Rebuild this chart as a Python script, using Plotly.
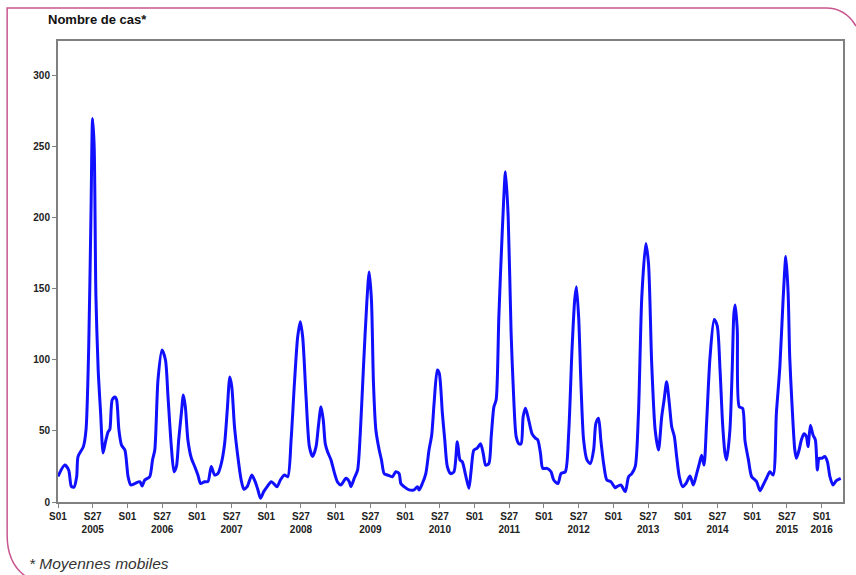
import plotly.graph_objects as go

# Week index since 2005 S01 (52 weeks per year) and moving-average case counts
weeks = [0, 5, 8, 10, 12, 14, 15, 19, 21, 23, 24.7, 25.9, 27.1, 28.4, 30.1, 31.9, 33.8, 35.6, 37.6, 38.8,
         40.6, 42.6, 43.9, 45.6, 47.6, 50.1, 52.5, 54.5, 57.5, 61.3, 63, 65, 68.7, 70.8, 72.5, 74.9, 77.9,
         80.5, 82.4, 84.9, 86.9, 88.7, 90.4, 92.4, 93.9, 95.4, 97.3, 99.9, 102.4, 104.8, 106.8, 109.8,
         112.3, 114.8, 117.3, 119.8, 122.3, 124.8, 126.8, 128.7, 130.2, 132.2, 134.7, 137.2, 139.2,
         141.7, 145.2, 147.7, 149.6, 151.7, 154.1, 156.7, 159.7, 161.6, 164.1, 166.6, 169.6, 172.1,
         174.6, 177.1, 179.5, 181.5, 183.3, 185.8, 188.3, 190.7, 193.3, 195, 197, 198.7, 200.2, 201.9,
         204.5, 206.9, 209.4, 212, 215.7, 218.2, 219.4, 221.9, 224.4, 226.4, 228.8, 231.4, 233.1, 234.8,
         236.3, 238.1, 240.6, 242.3, 244.3, 246.8, 250.5, 253, 255.5, 256.8, 259.2, 263, 266.7, 269.2,
         270.5, 272.9, 275.5, 277.9, 279.9, 281.7, 284.1, 285.6, 287.9, 289.7, 291.6, 294.1, 296.6,
         299.1, 301.1, 302.8, 305.3, 307.8, 309.5, 311.5, 314, 316.5, 318.5, 320.3, 322.7, 324.5, 326.5,
         328.2, 330.2, 332.7, 335.2, 337.2, 339.4, 341.4, 343.2, 345.2, 346.9, 348.4, 350.2, 352.6,
         355.1, 357.6, 359.4, 361.4, 363.1, 366.3, 369.3, 371.3, 374.5, 376.8, 380, 382.5, 385, 387,
         388.3, 390, 391.7, 393.7, 396.2, 398.7, 401.2, 402.9, 404.9, 406.6, 408.7, 411.1, 414.1, 417.4,
         418.6, 421.6, 424.9, 427.4, 429.8, 432.4, 434.8, 437.3, 440.3, 442.3, 444.7, 447.3, 449.8,
         452.2, 454, 455.9, 457.9, 459.7, 461.7, 463.4, 465.4, 467.9, 470.4, 473.4, 475.9, 478.4, 480.4,
         482.1, 483.9, 485.8, 488.4, 491.5, 493.8, 495.9, 497.8, 499.6, 500.8, 503.3, 505, 506.3, 507.3,
         508.8, 510.3, 512.8, 514.6, 517.1, 519.5, 522.1, 523.3, 525.8, 528.2, 530.7, 533.2, 535.7,
         538.1, 540.7, 543.1, 545.2, 546.9, 548.1, 549.9, 551.9, 553.1, 555.1, 556.8, 558.8, 560.6,
         561.8, 563.6, 565.6, 567.3, 568.8, 570.1, 572.3, 574.3, 576.3, 578.2, 580.5, 583, 586.3]
cases = [18, 26, 22.5, 11, 10.5, 18, 32, 39, 51, 109, 203, 270, 250, 145, 93, 63, 34.5, 42.5, 49.5, 51,
         72, 74, 72, 51, 40, 36.6, 17.8, 12, 13, 14.3, 11.3, 15.5, 17.8, 29.6, 36.6, 86, 107,
         100, 74, 39, 21.3, 25, 43.7, 62.5, 75.4, 67, 43.7, 30.8, 25, 19, 13, 14.3,
         14.3, 25, 19, 20, 27, 41, 65, 88, 81, 53, 32, 15.5, 9,
         10.8, 19, 14.3, 9, 2.6, 7.3, 10.8, 14.3, 13, 10.8, 15.5, 19, 17.8,
         43.7, 83.6, 116, 127, 116, 74, 39, 32, 39, 53, 67, 57.7, 41, 35.4,
         29.6, 21, 14, 12, 16.7, 14.3, 10.8, 16.7, 22.5, 48, 95, 142, 162, 142,
         83.6, 50.7, 36.6, 29.6, 20, 19, 17.8, 21.3, 20, 13, 10.8, 8.5, 8.5, 10.8,
         8.5, 13, 20, 36.6, 47, 69.5, 93, 90.6, 62.5, 43.7, 25, 20, 21.3,
         42.5, 29.6, 28.4, 19, 9.6, 22.5, 36.6, 38, 41, 34.3, 26, 27, 46, 67,
         72, 130, 189, 232.6, 201, 119, 72, 46, 41, 41, 60, 66, 57.7,
         48, 45, 43.7, 34.3, 23.7, 23.7, 21.3, 15.5, 13, 20, 21.3, 48, 107, 142,
         151.6, 130, 83.6, 43.7, 29.6, 27, 36.6, 55.4, 59, 43.7, 27, 15.5, 14.3, 10,
         10.8, 12, 7.3, 17.8, 20, 25, 62.5, 144.6, 182, 168, 97.7, 50.7, 36.6,
         60, 72, 84.7, 69.5, 53, 46, 32, 17.8, 10.8, 13, 18.3, 12, 20, 27,
         33, 26, 55.4, 102, 128.5, 124, 93, 55.4, 34.3, 29.6, 50.7, 93, 133, 138.7,
         121, 67, 66, 43, 30, 18, 15.5, 14.3, 8, 12, 16.7, 21.3, 19,
         62.5, 95, 142, 172.8, 147, 102, 67, 36.6, 30.8, 36.6, 43.7, 48, 46,
         39, 54, 47, 43.7, 22.5, 30.8, 30.8, 32, 28.4, 17.8, 12, 15, 16.7]

years = list(range(2005, 2017))
tick_vals = []
tick_text = []
for i, yr in enumerate(years):
    tick_vals.append(i * 52)
    tick_text.append("S01<br>2016" if yr == 2016 else "S01")
    if yr < 2016:
        tick_vals.append(i * 52 + 26)
        tick_text.append(f"S27<br>{yr}")

y_ticks = [0, 50, 100, 150, 200, 250, 300]

W, H = 856, 575
L, R, T, B = 58, 11, 41, 73
pw, ph = W - L - R, H - T - B


def px(x):
    return (x - L) / pw


def py(y):
    return (H - B - y) / ph


fig = go.Figure()
fig.add_trace(go.Scatter(
    x=weeks, y=cases, mode="lines",
    line=dict(color="#1010ff", width=3, shape="spline", smoothing=0.7),
    hoverinfo="skip", showlegend=False,
))

font_family = "Liberation Sans, Arial, sans-serif"

fig.update_layout(
    width=W, height=H,
    margin=dict(l=L, r=R, t=T, b=B),
    paper_bgcolor="white", plot_bgcolor="white",
    showlegend=False,
    xaxis=dict(
        range=[0, 588], tickvals=tick_vals, ticktext=tick_text,
        ticks="outside", ticklen=4, tickcolor="#808080", tickwidth=1,
        showline=True, linecolor="#808080", linewidth=2, mirror=True,
        showgrid=False, zeroline=False,
        tickfont=dict(family=font_family, size=10, color="#222222", weight="bold"),
    ),
    yaxis=dict(
        range=[0, 324.6], tickvals=y_ticks,
        ticks="outside", ticklen=4, tickcolor="#808080", tickwidth=1,
        showline=True, linecolor="#808080", linewidth=2, mirror=True,
        showgrid=False, zeroline=False,
        tickfont=dict(family=font_family, size=10, color="#222222", weight="bold"),
    ),
    annotations=[
        dict(text="<b>Nombre de cas*</b>", xref="paper", yref="paper",
             x=px(46), y=py(20), xanchor="left", yanchor="middle", showarrow=False,
             font=dict(family=font_family, size=13, color="#111111")),
        dict(text="<i>* Moyennes mobiles</i>", xref="paper", yref="paper",
             x=px(27), y=py(563), xanchor="left", yanchor="middle", showarrow=False,
             font=dict(family=font_family, size=15.5, color="#333333")),
    ],
)

# Pink rounded frame around the figure
path = (f"M {px(828)},{py(8)} L {px(7)},{py(8)} L {px(7)},{py(535)} "
        f"Q {px(7)},{py(568)} {px(32)},{py(580)} "
        f"M {px(828)},{py(8)} C {px(842)},{py(8)} {px(852)},{py(16)} {px(858)},{py(26)}")
fig.add_shape(type="path", path=path, xref="paper", yref="paper",
              line=dict(color="#c9558f", width=1.5), layer="above")

fig.write_html("out.html", config={"displayModeBar": False},
               post_script="document.body.style.margin='0px';")
